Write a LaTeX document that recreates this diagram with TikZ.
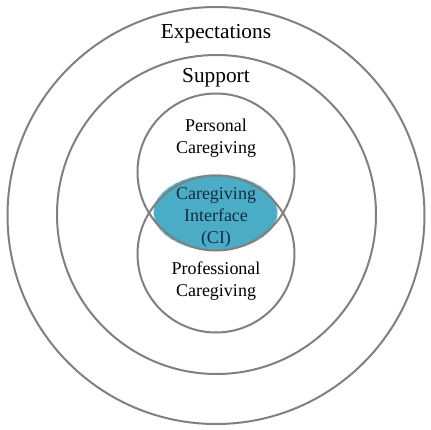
\documentclass[tikz,border=0pt]{standalone}
\usepackage{xcolor}
\usepackage{tikz}
\usepackage{fontspec}
\setmainfont{Liberation Serif}
\usetikzlibrary{shapes}

\begin{document}
\begin{tikzpicture}[x=0.75pt,y=0.75pt,yscale=-1,xscale=1,
  ring/.style={color={rgb, 255:red, 128; green, 128; blue, 128 }, line width=1.5},
  bigtext/.style={anchor=center, inner sep=0.75pt, font=\fontsize{16}{19}\selectfont},
  smalltext/.style={anchor=center, inner sep=0.75pt, align=center, font=\fontsize{13.5}{16.5}\selectfont}]
\useasboundingbox (0,0) rectangle (430,430);

%Shape: Ellipse [id:ci]
\draw [color={rgb, 255:red, 190; green, 220; blue, 230 }, fill={rgb, 255:red, 75; green, 172; blue, 198 }, dashed, line width=0.75] (215.5,212.5) ellipse (62 and 38);

%Shape: Circle [id:outer]
\draw [ring] (216,215.5) circle (208.5);
%Shape: Circle [id:middle]
\draw [ring] (216.5,214.5) circle (159.5);
%Shape: Circle [id:personal]
\draw [ring] (216,172) circle (78.5);
%Shape: Circle [id:professional]
\draw [ring] (216,254) circle (78.5);

% Text Node
\draw (216,34) node [bigtext] (expect) {Expectations};
% Text Node
\draw (216,77.5) node [bigtext] (support) {Support};
% Text Node
\draw (216,138) node [smalltext] (personal) {Personal\\Caregiving};
% Text Node
\draw (216,217.5) node [smalltext, color={rgb, 255:red, 23; green, 43; blue, 70 }] (interface) {Caregiving\\Interface\\(CI)};
% Text Node
\draw (216,281) node [smalltext] (professional) {Professional\\Caregiving};
\end{tikzpicture}
\end{document}
